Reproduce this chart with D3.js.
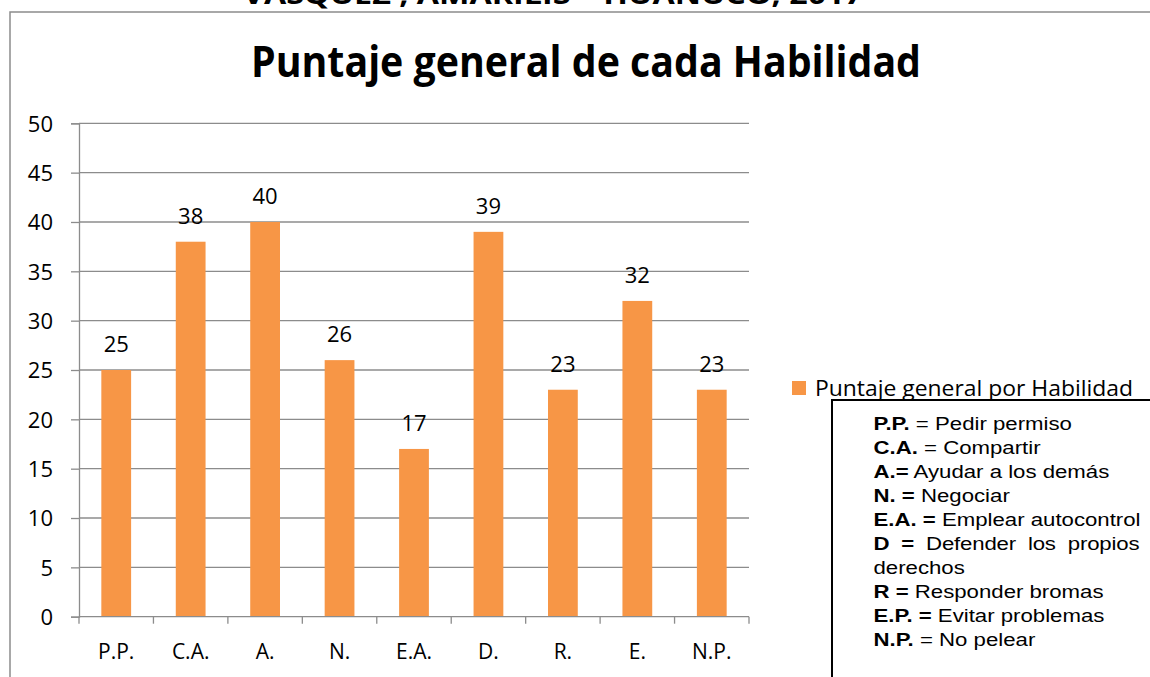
<!DOCTYPE html>
<html><head><meta charset="utf-8">
<script src="https://cdn.jsdelivr.net/npm/d3@7"></script>
<style>body{margin:0;background:#fff}svg{display:block}</style>
</head><body>
<script>
const categories = ["P.P.","C.A.","A.","N.","E.A.","D.","R.","E.","N.P."];
const values = [25,38,40,26,17,39,23,32,23];
const yTicks = [0,5,10,15,20,25,30,35,40,45,50];
const seriesName = "Puntaje general por Habilidad";
const chartTitle = "Puntaje general de cada Habilidad";
const topText = "VASQUEZ , AMARILIS – HUÁNUCO, 2017";
const glossary = [
  ["P.P.", " = Pedir permiso"],
  ["C.A.", " = Compartir"],
  ["A.=", " Ayudar a los demás"],
  ["N. =", " Negociar"],
  ["E.A. =", " Emplear autocontrol"],
  ["D  =", "  Defender  los  propios"],
  ["", "derechos"],
  ["R =", " Responder bromas"],
  ["E.P. =", " Evitar problemas"],
  ["N.P.", " = No pelear"]
];

const W = 1150, H = 677;
const svg = d3.select("body").append("svg").attr("width", W).attr("height", H);
const font = "Open Sans, sans-serif";

// top cut text
svg.append("text").attr("x", 243).attr("y", 4)
  .attr("font-family", font).attr("font-weight","bold").attr("font-size", 26)
  .attr("textLength", 620).attr("lengthAdjust","spacingAndGlyphs")
  .text(topText);

// frame
svg.append("rect").attr("x", 10).attr("y", 12).attr("width", 1200).attr("height", 700)
  .attr("fill","none").attr("stroke","#8c8c8c").attr("stroke-width",1.5);

// title
svg.append("text").attr("x", 251).attr("y", 77)
  .attr("font-family", font).attr("font-weight","bold").attr("font-size", 43)
  .attr("textLength", 670).attr("lengthAdjust","spacingAndGlyphs")
  .text(chartTitle);

const x0 = 79, x1 = 749, yTop = 123.3, yBot = 616.7;
const x = d3.scaleBand().domain(categories).range([x0, x1]).paddingInner(0.6).paddingOuter(0.3);
const y = d3.scaleLinear().domain([0,50]).range([yBot, yTop]);

// gridlines
svg.append("g").selectAll("line").data(yTicks.filter(d=>d>0)).join("line")
  .attr("x1", x0).attr("x2", x1).attr("y1", d=>y(d)).attr("y2", d=>y(d))
  .attr("stroke","#8c8c8c").attr("stroke-width",1.3);

// y axis
const yAxis = svg.append("g").attr("transform", `translate(${x0},0)`)
  .call(d3.axisLeft(y).tickValues(yTicks).tickSize(8).tickPadding(18));
yAxis.select(".domain").attr("stroke","#8c8c8c").attr("stroke-width",1.3);
yAxis.selectAll(".tick line").attr("stroke","#8c8c8c").attr("stroke-width",1.3);
yAxis.selectAll(".tick text").attr("font-family", font).attr("font-size", 22).attr("fill","#000").attr("dy","0.36em");

// bars
svg.append("g").selectAll("rect").data(values).join("rect")
  .attr("x", (d,i)=>x(categories[i])).attr("width", x.bandwidth())
  .attr("y", d=>y(d)).attr("height", d=>y(0)-y(d)).attr("fill","#f79646");

// value labels
svg.append("g").selectAll("text").data(values).join("text")
  .attr("x", (d,i)=>x(categories[i])+x.bandwidth()/2).attr("y", d=>y(d)-18)
  .attr("text-anchor","middle").attr("font-family", font).attr("font-size", 22)
  .text(d=>d);

// x axis
const xPos = d3.scaleLinear().domain([0,categories.length]).range([x0,x1]);
const xAxis = svg.append("g").attr("transform", `translate(0,${yBot})`);
xAxis.append("line").attr("x1", x0).attr("x2", x1).attr("stroke","#8c8c8c").attr("stroke-width",1.3);
xAxis.selectAll("line.t").data(d3.range(categories.length+1)).join("line").attr("class","t")
  .attr("x1", d=>xPos(d)).attr("x2", d=>xPos(d)).attr("y1",0).attr("y2",7)
  .attr("stroke","#8c8c8c").attr("stroke-width",1.3);
xAxis.selectAll("text").data(categories).join("text")
  .attr("x", d=>x(d)+x.bandwidth()/2).attr("y", 42).attr("text-anchor","middle")
  .attr("font-family", font).attr("font-size", 21).text(d=>d);

// legend
svg.append("rect").attr("x", 792).attr("y", 381).attr("width", 14).attr("height", 14).attr("fill","#f79646");
svg.append("text").attr("x", 815).attr("y", 396).attr("font-family", font).attr("font-size", 21)
  .attr("textLength", 318).attr("lengthAdjust","spacingAndGlyphs").text(seriesName);

// glossary box
svg.append("rect").attr("x", 832).attr("y", 400).attr("width", 400).attr("height", 400)
  .attr("fill","#fff").attr("stroke","#000").attr("stroke-width",2);
const g = svg.append("g");
glossary.forEach((r,i)=>{
  const t = g.append("text").attr("transform", `translate(873.5,${429.5 + i*24}) scale(1.2,1)`)
    .attr("font-family","Liberation Sans, Arial, sans-serif").attr("font-size", 18.5);
  t.append("tspan").attr("font-weight","bold").attr("xml:space","preserve").text(r[0]);
  t.append("tspan").attr("xml:space","preserve").text(r[1]);
  if (i===5) t.attr("textLength", 266/1.2).attr("lengthAdjust","spacing");
});
</script>
</body></html>
